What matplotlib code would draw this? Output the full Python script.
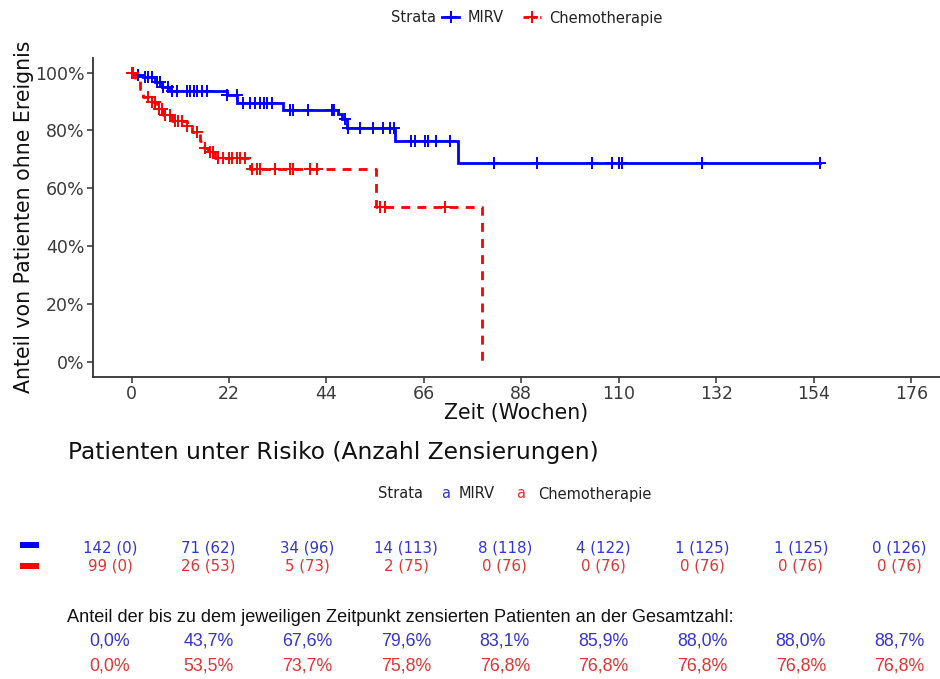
import numpy as np
import matplotlib
matplotlib.use("Agg")
import matplotlib.pyplot as plt
from matplotlib.lines import Line2D
from matplotlib.patches import Rectangle

# ---- Kaplan-Meier step data (weeks, % without event) ----
mirv_t = [0, 1.0, 2.6, 5.3, 6.9, 8.7, 21.5, 23.8, 34.2, 46.6, 47.6, 48.6, 59.5, 73.8, 155.5]
mirv_s = [100, 99.3, 98.4, 96.7, 95.0, 93.6, 92.2, 89.5, 87.2, 85.6, 84.0, 81.0, 76.3, 68.7, 68.7]
mirv_cens = [0.0, 1.5, 3.0, 3.8, 4.6, 5.7, 6.4, 7.2, 8.3, 9.1, 10.2, 12.5, 13.2, 14.0,
             14.7, 15.8, 17.0, 21.5, 23.7, 25.2, 26.7, 27.9, 29.0, 29.8, 30.5, 31.6,
             35.8, 36.5, 39.9, 45.2, 45.7, 48.2, 48.9, 51.6, 54.6, 56.8, 58.4, 59.2,
             63.0, 64.0, 66.3, 67.0, 68.8, 71.9, 81.8, 91.5, 103.9, 108.4, 110.0,
             110.7, 128.8, 155.4]

chemo_t = [0, 0.8, 1.9, 2.6, 4.2, 5.7, 7.1, 9.1, 12.5, 13.6, 15.5, 16.3, 17.2, 18.8,
           26.7, 55.2, 79.2]
chemo_s = [100, 97.8, 94.4, 91.5, 89.8, 87.5, 85.2, 83.4, 81.7, 79.4, 76.5, 74.0,
           72.5, 70.4, 66.8, 53.6, 0]
chemo_cens = [0.0, 0.4, 3.8, 4.6, 5.3, 6.1, 6.8, 7.6, 8.7, 9.8, 10.6, 11.3, 12.5,
              14.7, 16.6, 17.7, 18.5, 19.6, 20.7, 21.9, 22.6, 23.7, 24.5, 25.6,
              27.1, 28.3, 29.0, 32.4, 35.8, 36.5, 40.3, 41.8, 56.1, 57.2, 70.8]

x_ticks = [0, 22, 44, 66, 88, 110, 132, 154, 176]
y_ticks = [0, 20, 40, 60, 80, 100]

# ---- numbers at risk and cumulative censorings ----
mirv_total = 142
chemo_total = 99
mirv_risk = [142, 71, 34, 14, 8, 4, 1, 1, 0]
mirv_censored = [0, 62, 96, 113, 118, 122, 125, 125, 126]
chemo_risk = [99, 26, 5, 2, 0, 0, 0, 0, 0]
chemo_censored = [0, 53, 73, 75, 76, 76, 76, 76, 76]

BLUE = "#0000ff"
RED = "#ff0000"
BLUE_TXT = "#3434d2"
RED_TXT = "#e03434"
GREY = "#333333"

W, H = 940, 679
fig = plt.figure(figsize=(W / 100, H / 100), dpi=100)


def fx(px):
    return px / W


def fy(py):
    return 1 - py / H


ax = fig.add_axes([fx(93), fy(377), fx(940) - fx(93), fy(57.5) - fy(377)])


def step_value(t, times, surv):
    idx = np.searchsorted(times, t, side="right") - 1
    return np.asarray(surv)[idx]


ax.step(mirv_t, mirv_s, where="post", color=BLUE, lw=2.0, solid_joinstyle="miter")
ax.plot(mirv_cens, step_value(mirv_cens, mirv_t, mirv_s), ls="none",
        marker="+", ms=9, mew=1.4, color=BLUE)

ax.step(chemo_t, chemo_s, where="post", color=RED, lw=2.0, ls=(0, (3.2, 2.6)))
ax.plot(chemo_cens, step_value(chemo_cens, chemo_t, chemo_s), ls="none",
        marker="+", ms=9, mew=1.4, color=RED)

ax.set_xlim(-8.7, 182.5)
ax.set_ylim(-5.2, 105.2)
ax.set_xticks(x_ticks)
ax.set_xticklabels([str(v) for v in x_ticks])
ax.set_yticks(y_ticks)
ax.set_yticklabels([f"{v}%" for v in y_ticks])
for s in ["top", "right"]:
    ax.spines[s].set_visible(False)
for s in ["left", "bottom"]:
    ax.spines[s].set_color(GREY)
    ax.spines[s].set_linewidth(1.3)
ax.tick_params(axis="both", colors=GREY, labelsize=12.5, length=4, width=1.1,
               labelcolor="#3a3a3a", pad=2)
ax.set_xlabel("Zeit (Wochen)", fontsize=14.8, color="#111111", labelpad=0)
ax.set_ylabel("Anteil von Patienten ohne Ereignis", fontsize=14.8, color="#111111",
              labelpad=1)

# ---- top legend ----
fig.text(fx(391), fy(18), "Strata", fontsize=10.5, color="#222222", va="center")
handles = [Line2D([], [], color=BLUE, lw=2, marker="+", ms=9, mew=1.4),
           Line2D([], [], color=RED, lw=2, ls=(0, (2, 1)), marker="+", ms=9, mew=1.4)]
fig.legend(handles, ["MIRV", "Chemotherapie"], loc="center left",
           bbox_to_anchor=(fx(436), fy(18)), ncol=2, frameon=False, fontsize=10.5,
           handlelength=1.2, handletextpad=0.6, columnspacing=1.3, borderaxespad=0,
           labelcolor="#222222")

# ---- risk table ----
fig.text(fx(68), fy(452), "Patienten unter Risiko (Anzahl Zensierungen)",
         fontsize=16.8, color="#111111", va="center")

fig.text(fx(378), fy(494), "Strata", fontsize=10.5, color="#222222", va="center")
fig.text(fx(441), fy(494), "a", fontsize=10.5, color=BLUE_TXT, va="center")
fig.text(fx(459), fy(494), "MIRV", fontsize=10.5, color="#222222", va="center")
fig.text(fx(516), fy(494), "a", fontsize=10.5, color=RED_TXT, va="center")
fig.text(fx(538), fy(494), "Chemotherapie", fontsize=10.5, color="#222222", va="center")

fig.add_artist(Rectangle((fx(20), fy(548)), fx(39) - fx(20), fy(542) - fy(548),
                         transform=fig.transFigure, color=BLUE, lw=0))
fig.add_artist(Rectangle((fx(20), fy(569)), fx(39) - fx(20), fy(563) - fy(569),
                         transform=fig.transFigure, color=RED, lw=0))

col_x = [110 + 98.7 * i for i in range(len(mirv_risk))]
for cx, r, c in zip(col_x, mirv_risk, mirv_censored):
    fig.text(fx(cx), fy(548), f"{r} ({c})", fontsize=10.8, color=BLUE_TXT,
             ha="center", va="center")
for cx, r, c in zip(col_x, chemo_risk, chemo_censored):
    fig.text(fx(cx), fy(566), f"{r} ({c})", fontsize=10.8, color=RED_TXT,
             ha="center", va="center")

# ---- share of censored patients ----
sans = ["Liberation Sans", "DejaVu Sans"]
fig.text(fx(67), fy(618),
         "Anteil der bis zu dem jeweiligen Zeitpunkt zensierten Patienten an der Gesamtzahl:",
         fontsize=13.1, color="#111111", va="center", family=sans)


def pct(c, total):
    return f"{100 * c / total:.1f}%".replace(".", ",")


for cx, c in zip(col_x, mirv_censored):
    fig.text(fx(cx), fy(641), pct(c, mirv_total), fontsize=12.8, color=BLUE_TXT,
             ha="center", va="center", family=sans)
for cx, c in zip(col_x, chemo_censored):
    fig.text(fx(cx), fy(666), pct(c, chemo_total), fontsize=12.8, color=RED_TXT,
             ha="center", va="center", family=sans)

fig.savefig("out.png", dpi=100, facecolor="white")
